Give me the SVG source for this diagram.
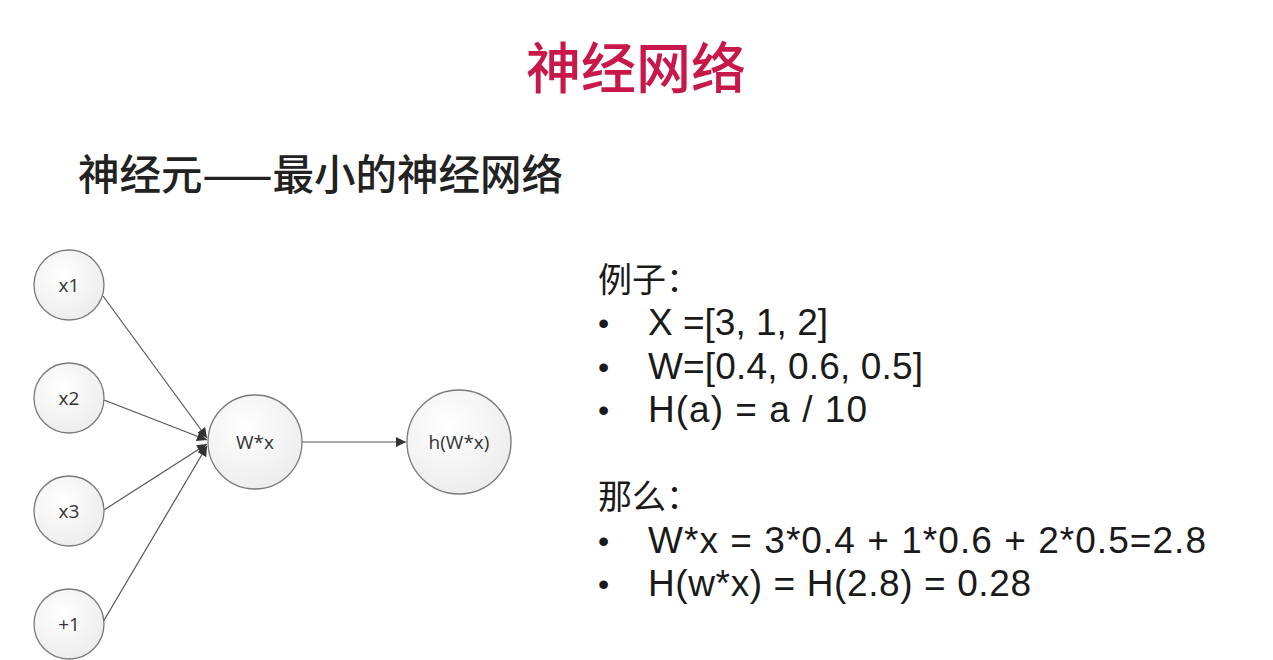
<svg xmlns="http://www.w3.org/2000/svg" width="1273" height="660" viewBox="0 0 1273 660">
<style>
.node{fill:url(#g);stroke:#7a7a7a;stroke-width:1.3}
.nl{font-family:"Open Sans","Noto Sans",sans-serif;font-size:19px;fill:#333;text-anchor:middle}
.edge{stroke:#555;stroke-width:1.2;fill:none}
.cn{font-family:"Noto Sans CJK SC",sans-serif}
.body{font-family:"Liberation Sans","Noto Sans CJK SC",sans-serif;font-size:37px;fill:#1a1a1a}
.hd{font-family:"Noto Sans CJK SC",sans-serif;font-size:34px}
.bl{font-family:"Liberation Sans",sans-serif;font-size:32px}
</style>
<defs>
<radialGradient id="g" cx="0.4" cy="0.35" r="0.7">
<stop offset="0" stop-color="#ffffff"/>
<stop offset="1" stop-color="#ececec"/>
</radialGradient>
<marker id="ah" viewBox="0 0 10 10" refX="10" refY="5" markerWidth="10" markerHeight="10" markerUnits="userSpaceOnUse" orient="auto">
<path d="M0,0 L10,5 L0,10 Z" fill="#333"/>
</marker>
</defs>
<rect width="1273" height="660" fill="#fff"/>
<text x="636" y="88" class="cn" font-size="55" font-weight="500" fill="#c8184a" text-anchor="middle">神经网络</text>
<text x="78" y="190" class="cn" font-size="41.5" font-weight="500" fill="#222">神经元——最小的神经网络</text>
<g id="connectors">
<line class="edge" x1="103" y1="296" x2="207" y2="438" marker-end="url(#ah)"/>
<line class="edge" x1="104" y1="400" x2="207" y2="440" marker-end="url(#ah)"/>
<line class="edge" x1="104" y1="510" x2="207" y2="444" marker-end="url(#ah)"/>
<line class="edge" x1="103" y1="622" x2="207" y2="446" marker-end="url(#ah)"/>
<line class="edge" x1="302" y1="442" x2="406" y2="442" marker-end="url(#ah)"/>
</g>
<g id="x1"><circle class="node" cx="69" cy="285" r="35"/><text class="nl" x="69" y="292">x1</text></g>
<g id="x2"><circle class="node" cx="69" cy="398" r="35"/><text class="nl" x="69" y="405">x2</text></g>
<g id="x3"><circle class="node" cx="69" cy="511" r="35"/><text class="nl" x="69" y="518">x3</text></g>
<g id="plus1"><circle class="node" cx="69" cy="624" r="35"/><text class="nl" x="69" y="631">+1</text></g>
<g id="wx"><circle class="node" cx="255" cy="442" r="47"/><text class="nl" x="255" y="449">W*x</text></g>
<g id="hwx"><circle class="node" cx="459" cy="442" r="52"/><text class="nl" x="459" y="449">h(W*x)</text></g>
<g class="body">
<text x="598" y="292" class="hd">例子：</text>
<text x="598" y="334" class="bl">•</text><text x="648" y="335" textLength="180" lengthAdjust="spacing">X =[3, 1, 2]</text>
<text x="598" y="378" class="bl">•</text><text x="648" y="379" textLength="275" lengthAdjust="spacing">W=[0.4, 0.6, 0.5]</text>
<text x="598" y="421" class="bl">•</text><text x="648" y="422" textLength="219" lengthAdjust="spacing">H(a) = a / 10</text>
<text x="598" y="509" class="hd">那么：</text>
<text x="598" y="552" class="bl">•</text><text x="648" y="553" textLength="558" lengthAdjust="spacing">W*x = 3*0.4 + 1*0.6 + 2*0.5=2.8</text>
<text x="598" y="595" class="bl">•</text><text x="648" y="596" textLength="383" lengthAdjust="spacing">H(w*x) = H(2.8) = 0.28</text>
</g>
</svg>
